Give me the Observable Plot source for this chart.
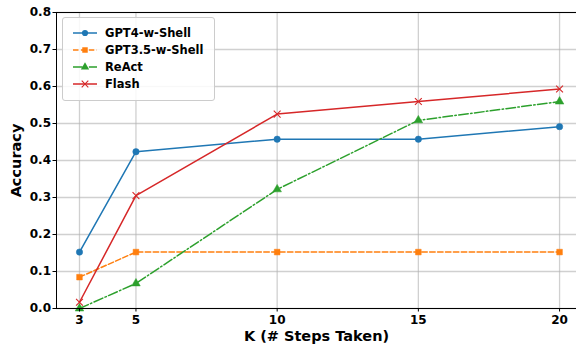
<!DOCTYPE html>
<html>
<head>
<meta charset="utf-8">
<script src="https://cdn.jsdelivr.net/npm/d3@7"></script>
<script src="https://cdn.jsdelivr.net/npm/@observablehq/plot@0.6"></script>
<style>
  html, body { margin: 0; padding: 0; background: #fff; }
  #wrap { position: relative; width: 576px; height: 344px; overflow: hidden; font-family: "DejaVu Sans", sans-serif; }
  #legend { position: absolute; left: 62px; top: 17px; width: 153px; height: 84px; border: 1px solid #cccccc; border-radius: 3px; background: rgba(255,255,255,0.85); box-sizing: border-box; }
  .row { position: absolute; left: 9px; height: 16px; display: flex; align-items: center; font-weight: bold; font-size: 11.5px; color: #000; }
  .row svg { margin-right: 7px; }
</style>
</head>
<body>
<div id="wrap"></div>
<script>
const steps = [3, 5, 10, 15, 20];
const seriesNames = ["GPT4-w-Shell", "GPT3.5-w-Shell", "ReAct", "Flash"];
const gpt4 = [0.1525, 0.4237, 0.4576, 0.4576, 0.4915];
const gpt35 = [0.0847, 0.1525, 0.1525, 0.1525, 0.1525];
const react = [0.0, 0.0678, 0.3220, 0.5085, 0.5593];
const flash = [0.0169, 0.3051, 0.5254, 0.5593, 0.5932];
const yTicks = [0, 0.1, 0.2, 0.3, 0.4, 0.5, 0.6, 0.7, 0.8];
const xLabel = "K (# Steps Taken)";
const yLabel = "Accuracy";

const colors = ["#1f77b4", "#ff7f0e", "#2ca02c", "#d62728"];
const dashes = [null, "5.5,2.4", "9.6,2.4,1.5,2.4", null];
const symbols = ["circle", "square", "triangle", "times"];
const allValues = [gpt4, gpt35, react, flash];

const data = [];
allValues.forEach((vals, i) => vals.forEach((v, j) => data.push({series: seriesNames[i], k: steps[j], acc: v, idx: i})));

const marks = [
  Plot.gridX(steps, {stroke: "#b0b0b0", strokeOpacity: 0.6, strokeWidth: 1.3}),
  Plot.gridY(yTicks, {stroke: "#b0b0b0", strokeOpacity: 0.6, strokeWidth: 1.3}),
];
seriesNames.forEach((name, i) => {
  const d = data.filter(r => r.idx === i);
  marks.push(Plot.line(d, {x: "k", y: "acc", stroke: colors[i], strokeWidth: 1.5, strokeDasharray: dashes[i] || undefined}));
});
seriesNames.forEach((name, i) => {
  const d = data.filter(r => r.idx === i);
  if (symbols[i] === "times") {
    marks.push(Plot.dot(d, {x: "k", y: "acc", symbol: "times", r: 3.2, stroke: colors[i], strokeWidth: 1.1}));
  } else {
    marks.push(Plot.dot(d, {x: "k", y: "acc", symbol: symbols[i], r: symbols[i] === "square" ? 3.2 : 3.2, fill: colors[i], stroke: colors[i], strokeWidth: 0.5}));
  }
});
marks.push(
  Plot.frame({anchor: "left", stroke: "#000", strokeWidth: 1}),
  Plot.frame({anchor: "top", stroke: "#000", strokeWidth: 1}),
  Plot.frame({anchor: "bottom", stroke: "#000", strokeWidth: 1}),
  Plot.axisX({ticks: steps, tickSize: 3.5, tickPadding: 3, fontSize: 12, fontWeight: "bold", label: xLabel, labelAnchor: "center", labelArrow: "none", labelOffset: 32}),
  Plot.axisY({ticks: yTicks, tickSize: 3.5, tickPadding: 2, fontSize: 12, fontWeight: "bold", tickFormat: d3.format(".1f"), label: yLabel, labelAnchor: "center", labelArrow: "none", labelOffset: 46})
);

const chart = Plot.plot({
  width: 576,
  height: 344,
  marginLeft: 56,
  marginRight: 0,
  marginTop: 12,
  marginBottom: 36,
  style: {fontFamily: "DejaVu Sans, sans-serif", color: "#000", background: "#fff", overflow: "visible"},
  x: {domain: [2.186, 20.6]},
  y: {domain: [0, 0.8]},
  marks
});
const wrap = document.getElementById("wrap");
wrap.appendChild(chart);
chart.querySelectorAll("text").forEach(t => {
  const s = t.textContent.trim();
  if (s === xLabel || s === yLabel) {
    t.style.fontSize = "14.5px";
    t.style.fontWeight = "bold";
  }
});

// legend
const legend = document.createElement("div");
legend.id = "legend";
seriesNames.forEach((name, i) => {
  const row = document.createElement("div");
  row.className = "row";
  row.style.top = (7 + i * 17) + "px";
  const ns = "http://www.w3.org/2000/svg";
  const svg = document.createElementNS(ns, "svg");
  svg.setAttribute("width", "26"); svg.setAttribute("height", "12");
  const ln = document.createElementNS(ns, "line");
  ln.setAttribute("x1", "1"); ln.setAttribute("x2", "25"); ln.setAttribute("y1", "6"); ln.setAttribute("y2", "6");
  ln.setAttribute("stroke", colors[i]); ln.setAttribute("stroke-width", "1.5");
  if (dashes[i]) ln.setAttribute("stroke-dasharray", dashes[i]);
  svg.appendChild(ln);
  const sym = d3.symbol({circle: d3.symbolCircle, square: d3.symbolSquare, triangle: d3.symbolTriangle, times: d3.symbolTimes}[symbols[i]], 30)();
  const p = document.createElementNS(ns, "path");
  p.setAttribute("d", sym);
  p.setAttribute("transform", "translate(13,6)");
  if (symbols[i] === "times") { p.setAttribute("fill", "none"); p.setAttribute("stroke", colors[i]); p.setAttribute("stroke-width", "1.1"); }
  else { p.setAttribute("fill", colors[i]); }
  svg.appendChild(p);
  row.appendChild(svg);
  const span = document.createElement("span");
  span.textContent = name;
  row.appendChild(span);
  legend.appendChild(row);
});
wrap.appendChild(legend);
</script>
</body>
</html>
